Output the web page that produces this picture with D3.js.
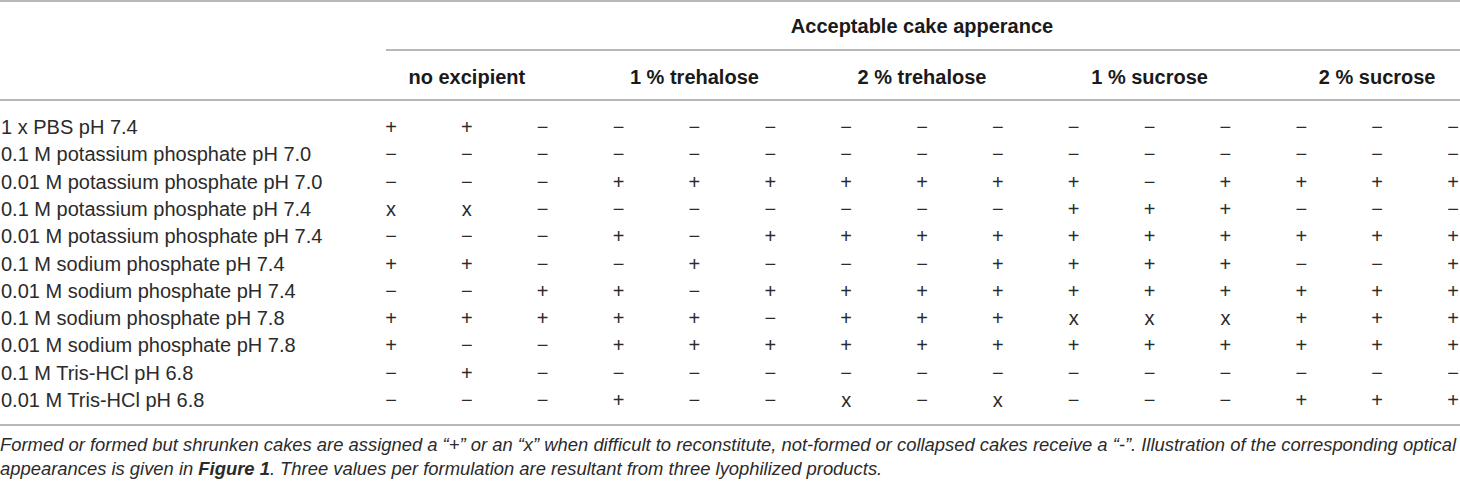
<!DOCTYPE html>
<html>
<head>
<meta charset="utf-8">
<script src="https://d3js.org/d3.v7.min.js"></script>
<style>
  body { margin: 0; background: #fff; }
  svg text { font-family: "Liberation Sans", Arial, sans-serif; }
</style>
</head>
<body>
<div id="table"></div>
<script>
// table content
let spanTitle = "Acceptable cake apperance";
let groups = ["no excipient", "1 % trehalose", "2 % trehalose", "1 % sucrose", "2 % sucrose"];
let rowLabels = [
    "1 x PBS pH 7.4",
    "0.1 M potassium phosphate pH 7.0",
    "0.01 M potassium phosphate pH 7.0",
    "0.1 M potassium phosphate pH 7.4",
    "0.01 M potassium phosphate pH 7.4",
    "0.1 M sodium phosphate pH 7.4",
    "0.01 M sodium phosphate pH 7.4",
    "0.1 M sodium phosphate pH 7.8",
    "0.01 M sodium phosphate pH 7.8",
    "0.1 M Tris-HCl pH 6.8",
    "0.01 M Tris-HCl pH 6.8"
];
// three lyophilized products per formulation, 5 groups x 3 = 15 cells per row
let cells = [
    ["+","+","−", "−","−","−", "−","−","−", "−","−","−", "−","−","−"],
    ["−","−","−", "−","−","−", "−","−","−", "−","−","−", "−","−","−"],
    ["−","−","−", "+","+","+", "+","+","+", "+","−","+", "+","+","+"],
    ["x","x","−", "−","−","−", "−","−","−", "+","+","+", "−","−","−"],
    ["−","−","−", "+","−","+", "+","+","+", "+","+","+", "+","+","+"],
    ["+","+","−", "−","+","−", "−","−","+", "+","+","+", "−","−","+"],
    ["−","−","+", "+","−","+", "+","+","+", "+","+","+", "+","+","+"],
    ["+","+","+", "+","+","−", "+","+","+", "x","x","x", "+","+","+"],
    ["+","−","−", "+","+","+", "+","+","+", "+","+","+", "+","+","+"],
    ["−","+","−", "−","−","−", "−","−","−", "−","−","−", "−","−","−"],
    ["−","−","−", "+","−","−", "x","−","x", "−","−","−", "+","+","+"]
];
let footLine1 = "Formed or formed but shrunken cakes are assigned a “+” or an “x” when difficult to reconstitute, not-formed or collapsed cakes receive a “-”. Illustration of the corresponding optical";
let footLine2a = "appearances is given in ";
let footLine2b = "Figure 1";
let footLine2c = ". Three values per formulation are resultant from three lyophilized products.";

let width = 1460, height = 481;

let svg = d3.select("#table")
    .append("svg")
    .attr("width", width)
    .attr("height", height);

// column index -> x centre, row index -> y centre
let x = d3.scaleLinear().domain([0, 14]).range([391, 1453]);
let y = d3.scaleLinear().domain([0, rowLabels.length - 1]).range([127, 400]);

let ruleColor = "#a0a0a0";
function rule(x1, x2, yy) {
    svg.append("line")
        .attr("x1", x1).attr("x2", x2)
        .attr("y1", yy).attr("y2", yy)
        .attr("stroke", ruleColor)
        .attr("stroke-width", 1.6);
}
rule(0, width, 1);
rule(386, width, 50);
rule(0, width, 100);
rule(0, width, 425);

// spanning header
svg.append("text")
    .attr("x", (x(0) + x(14)) / 2)
    .attr("y", 33)
    .attr("text-anchor", "middle")
    .attr("font-size", 20)
    .attr("font-weight", "bold")
    .attr("fill", "#1a1a1a")
    .text(spanTitle);

// group headers, centred over the middle product of each group
svg.selectAll("text.group")
    .data(groups)
    .enter()
    .append("text")
    .attr("class", "group")
    .attr("x", (d, i) => x(i * 3 + 1))
    .attr("y", 84)
    .attr("text-anchor", "middle")
    .attr("font-size", 20)
    .attr("font-weight", "bold")
    .attr("fill", "#1a1a1a")
    .text(d => d);

// row labels
svg.selectAll("text.row")
    .data(rowLabels)
    .enter()
    .append("text")
    .attr("class", "row")
    .attr("x", 1)
    .attr("y", (d, i) => y(i) + 7)
    .attr("font-size", 20)
    .attr("fill", "#2b2b2b")
    .text(d => d);

// cell symbols
let rows = svg.selectAll("g.cells")
    .data(cells)
    .enter()
    .append("g")
    .attr("class", "cells")
    .attr("transform", (d, i) => "translate(0," + (y(i) + 7) + ")");

rows.selectAll("text")
    .data(d => d)
    .enter()
    .append("text")
    .attr("x", (d, j) => x(j))
    .attr("text-anchor", "middle")
    .attr("font-size", 20)
    .attr("fill", "#2b2b2b")
    .text(d => d);

// footnote
let foot = svg.append("g")
    .attr("font-size", 18.4)
    .attr("font-style", "italic")
    .attr("fill", "#2b2b2b");
foot.append("text")
    .attr("x", 0).attr("y", 451)
    .text(footLine1);
let f2 = foot.append("text")
    .attr("x", 0).attr("y", 475);
f2.append("tspan").text(footLine2a);
f2.append("tspan").attr("font-weight", "bold").text(footLine2b);
f2.append("tspan").text(footLine2c);
</script>
</body>
</html>
